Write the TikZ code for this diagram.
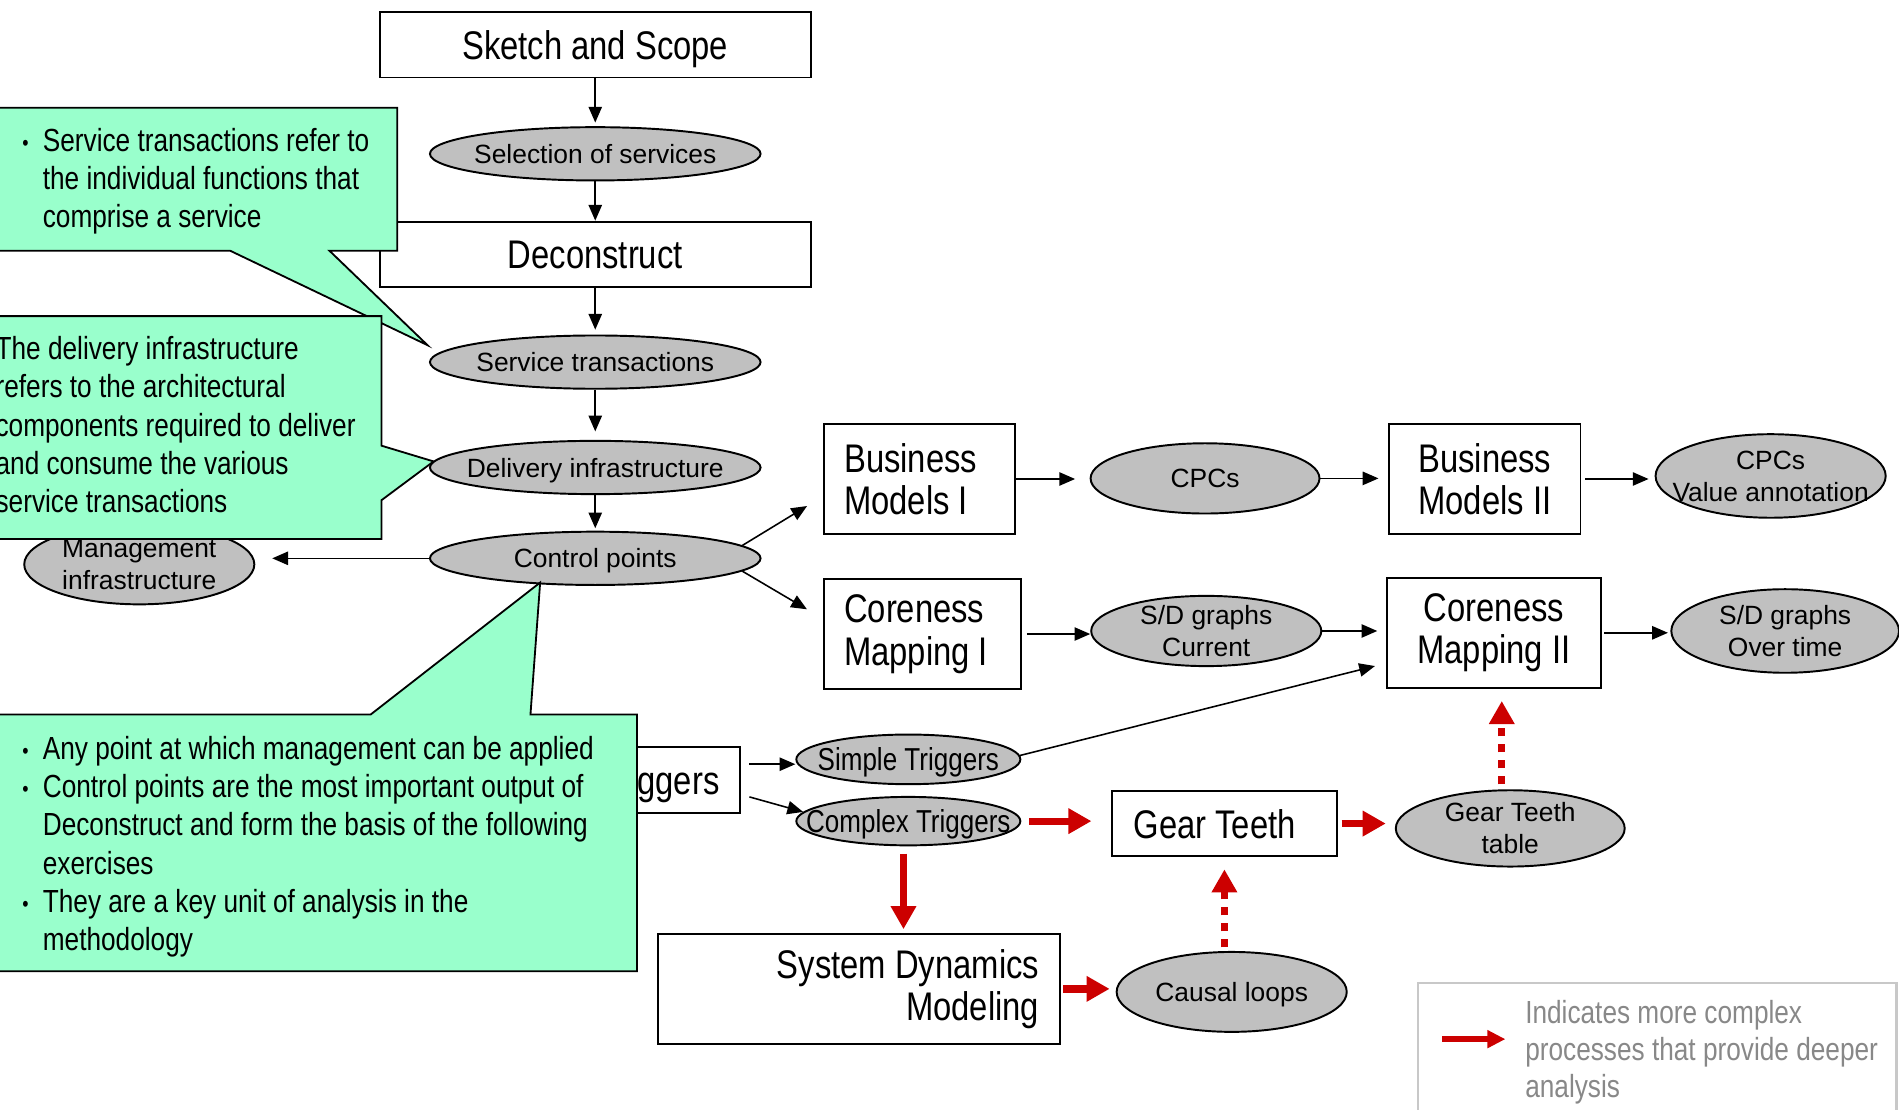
\documentclass[tikz,border=0pt]{standalone}
\usepackage{fontspec}
\setmainfont{Liberation Sans}
\newfontfamily\narrowfont[FakeStretch=0.82]{Liberation Sans}
\usetikzlibrary{arrows.meta,shapes.geometric,calc}

\definecolor{callgreen}{HTML}{99FFCC}
\definecolor{ellgray}{HTML}{C0C0C0}
\definecolor{deepred}{HTML}{CC0000}
\definecolor{legendgray}{HTML}{888888}
\definecolor{legendframe}{HTML}{C8C8C8}

% small list bullet
\newcommand{\notebullet}{\makebox[8.5pt][l]{\raisebox{0.4pt}{\fontsize{9}{9}\selectfont•}}}

\begin{document}
\begin{tikzpicture}[x=0.5pt,y=-0.5pt,
  stepbox/.style={draw=black,line width=0.8pt,fill=white,rectangle,inner sep=0pt,
    font=\narrowfont\fontsize{16.5}{17.5}\selectfont,
    execute at begin node={\spaceskip=\fontdimen2\font\relax\xspaceskip=\fontdimen2\font\relax}},
  oneline/.style={text depth=0pt},
  oval/.style={ellipse,draw=black,line width=0.8pt,fill=ellgray,inner sep=0pt},
  ovaltext/.style={font=\fontsize{10.9}{13.25}\selectfont,align=center,inner sep=0pt},
  ovalnarrow/.style={font=\narrowfont\fontsize{13.1}{15}\selectfont,align=center,inner sep=0pt},
  link/.style={line width=0.65pt,-{Triangle[length=6.5pt,width=5.5pt]}},
  deeplink/.style={draw=deepred,line width=3pt,-{Triangle[length=9.5pt,width=10pt]}},
  deepdash/.style={deeplink,dash pattern=on 3.3pt off 3.3pt},
  callout/.style={fill=callgreen,draw=black,line width=0.75pt,line join=miter},
  calltext/.style={font=\narrowfont\fontsize{13.2}{15.8}\selectfont,inner sep=0pt,anchor=base west},
  legtext/.style={font=\narrowfont\fontsize{13.2}{15.25}\selectfont,text=legendgray,inner sep=0pt,anchor=base west},
]
\useasboundingbox (0,0) rectangle (1568,916);
\clip (0,0) rectangle (1568,916);

% ---- main column ----
\node[stepbox,oneline,minimum width=178pt,minimum height=27pt] (sketch) at (491.5,37) {Sketch and Scope};
\node[oval,minimum width=136.5pt,minimum height=22pt] (sel) at (491.5,127) {};
\node[ovaltext,oneline] (sel-t) at (sel) {Selection of services};
\node[stepbox,oneline,minimum width=178pt,minimum height=27pt] (decon) at (491.5,210) {Deconstruct};
\node[oval,minimum width=136.5pt,minimum height=22pt] (st) at (491.5,299) {};
\node[ovaltext,oneline] (st-t) at (st) {Service transactions};
\node[oval,minimum width=136.5pt,minimum height=22pt] (di) at (491.5,386) {};
\node[ovaltext,oneline] (di-t) at (di) {Delivery infrastructure};
\node[oval,minimum width=136.5pt,minimum height=22pt] (cp) at (491.5,461) {};
\node[ovaltext,oneline] (cp-t) at (cp) {Control points};
\node[oval,minimum width=95pt,minimum height=33pt] (mi) at (115,466) {};
\node[ovaltext] (mi-t) at (mi) {Management\\infrastructure};

% ---- business model branch ----
\node[stepbox,minimum height=45.5pt,text width=62pt,inner xsep=8.5pt,align=left] (bm1) at (759,395.5) {Business\\Models I};
\node[oval,minimum width=94.5pt,minimum height=29pt] (cpc) at (995,395) {};
\node[ovaltext,oneline] (cpc-t) at (cpc) {CPCs};
\node[stepbox,minimum width=79pt,minimum height=45.5pt,align=center] (bm2) at (1226,395.5) {Business\\Models II};
\node[oval,minimum width=95pt,minimum height=34.5pt] (cpcva) at (1462,393) {};
\node[ovaltext] (cpcva-t) at (cpcva) {CPCs\\Value annotation};

% ---- coreness branch ----
\node[stepbox,minimum height=45.5pt,text width=64.5pt,inner xsep=8.5pt,align=left] (cm1) at (761.5,523.5) {Coreness\\Mapping I};
\node[oval,minimum width=95pt,minimum height=29pt] (sdc) at (996,521) {};
\node[ovaltext] (sdc-t) at (sdc) {S/D graphs\\Current};
\node[stepbox,minimum width=88.5pt,minimum height=45.5pt,align=center] (cm2) at (1233.5,522.5) {Coreness\\Mapping II};
\node[oval,minimum width=94pt,minimum height=34.5pt] (sdo) at (1474,521) {};
\node[ovaltext] (sdo-t) at (sdo) {S/D graphs\\Over time};

% ---- triggers branch ----
\node[stepbox,oneline,minimum height=27pt,text width=68.5pt,inner xsep=8.5pt,align=right] (trig) at (525.5,644) {Triggers};
\node[oval,minimum width=92.5pt,minimum height=20.5pt] (simp) at (750,627) {};
\node[ovalnarrow,oneline] (simp-t) at (simp) {Simple Triggers};
\node[oval,minimum width=92.5pt,minimum height=20pt] (comp) at (750,678) {};
\node[ovalnarrow,oneline] (comp-t) at (comp) {Complex Triggers};
\node[stepbox,oneline,minimum height=27pt,text width=75pt,inner xsep=9pt,align=left] (gear) at (1011,680) {Gear Teeth};
\node[oval,minimum width=94.5pt,minimum height=31.5pt] (gtt) at (1247,684) {};
\node[ovaltext] (gtt-t) at (gtt) {Gear Teeth\\table};
\node[stepbox,minimum height=45.5pt,text width=149pt,inner xsep=8.5pt,align=right] (sdm) at (709,816.5) {System Dynamics\\Modeling};
\node[oval,minimum width=95pt,minimum height=33pt] (cl) at (1017,819) {};
\node[ovaltext,oneline] (cl-t) at (cl) {Causal loops};

% ---- plain connectors ----
\draw[link,shorten >=1.5pt] (sketch) -- (sel);
\draw[link] (sel) -- (decon);
\draw[link,shorten >=2pt] (decon) -- (st);
\draw[link,shorten >=3.5pt] (st) -- (di);
\draw[link,shorten >=1pt] (di) -- (cp);
\draw[link,shorten >=7pt] (cp.west) -- (cp.west -| mi.east);
\draw[link,shorten >=7.5pt] (cp.5) -- ([yshift=-7.25pt]bm1.west);
\draw[link,shorten >=7.5pt] (cp.-5) -- ([yshift=6.4pt]cm1.west);
\draw[link,shorten >=6pt] (bm1.east) -- (bm1.east -| cpc.west);
\draw[link,shorten >=4pt] (cpc.east) -- (cpc.east -| bm2.west);
\draw[link,shorten <=1.5pt,shorten >=2.5pt] (bm2.east) -- (bm2.east -| cpcva.west);
\draw[link,shorten <=2pt] (cm1.east) -- (cm1.east -| sdc.west);
\draw[link,shorten >=3.5pt] (sdc.east) -- (sdc.east -| cm2.west);
\draw[link,shorten <=1pt,shorten >=1pt] (cm2.east) -- (cm2.east -| sdo.west);
\coordinate (trigup) at ($(trig.east)+(7,-13)$);
\draw[link] (trigup) -- (trigup -| simp.west);
\draw[link] ($(trig.east)+(7,14)$) -- (comp.175);
\draw[link,shorten >=4.6pt] (simp.2) -- ([yshift=-12.6pt]cm2.west);

% ---- deeper-analysis connectors ----
\draw[deeplink,shorten <=3.25pt,shorten >=8pt] (comp.east) -- (comp.east -| gear.west);
\draw[deeplink,shorten <=3pt,shorten >=1.5pt] ([xshift=-2pt]comp.south) -- ([xshift=-2pt]comp.south |- sdm.north);
\draw[deeplink,shorten <=1.5pt,shorten >=3.75pt] (gear.east) -- (gear.east -| gtt.west);
\draw[deeplink,shorten <=1pt,shorten >=2.5pt] (sdm.east) -- (sdm.east -| cl.west);
\draw[deepdash,shorten <=1.5pt,shorten >=5pt] (gear.south |- cl.north) -- (gear.south);
\draw[deepdash,shorten <=2pt,shorten >=5pt] ([xshift=-3.5pt]gtt.north) -- ([xshift=-3.5pt]gtt.north |- cm2.south);

% ---- legend ----
\node[draw=legendframe,line width=0.9pt,minimum width=197.5pt,minimum height=65pt,anchor=north west,inner sep=0pt] (legend) at (1170,811) {};
\coordinate (legA) at (1191,858);
\coordinate (legB) at (1243,858);
\draw[draw=deepred,line width=2.75pt,-{Triangle[length=7.4pt,width=7pt]}] (legA) -- (legB);
\node[legtext] (legtxt) at (1259,845) {\begin{tabular}[t]{@{}l@{}}Indicates more complex\\processes that provide deeper\\analysis\end{tabular}};

% ---- callouts ----
\draw[callout] (-10,89) -- (328,89) -- (328,207) -- (272,207) -- (353,285) -- (190,207) -- (-10,207) -- cycle;
\node[calltext] (note1) at (18,125) {\begin{tabular}[t]{@{}l@{}l@{}}\notebullet&Service transactions refer to\\&the individual functions that\\&comprise a service\end{tabular}};

\draw[callout] (-10,261) -- (315,261) -- (315,368) -- (358,381) -- (315,413) -- (315,445) -- (-10,445) -- cycle;
\node[calltext] (note2) at (-4,297) {\begin{tabular}[t]{@{}l@{}}The delivery infrastructure\\refers to the architectural\\components required to deliver\\and consume the various\\service transactions\end{tabular}};

\draw[callout] (-10,590) -- (306,590) -- (446,481) -- (438,590) -- (526,590) -- (526,802) -- (-10,802) -- cycle;
\node[calltext] (note3) at (18,627) {\begin{tabular}[t]{@{}l@{}l@{}}\notebullet&Any point at which management can be applied\\\notebullet&Control points are the most important output of\\&Deconstruct and form the basis of the following\\&exercises\\\notebullet&They are a key unit of analysis in the\\&methodology\end{tabular}};
\end{tikzpicture}
\end{document}
